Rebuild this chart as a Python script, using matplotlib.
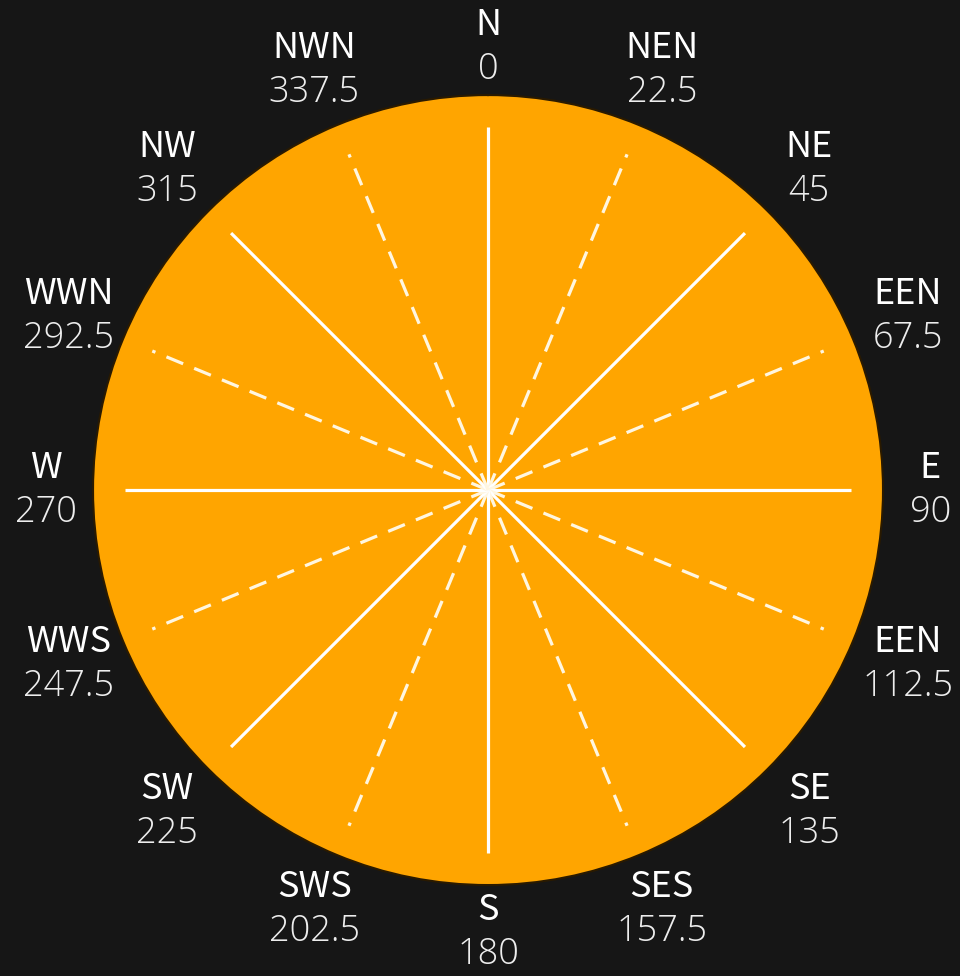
#compass rose: 16 directions drawn on an orange disc, labels around the rim
import numpy as np
import matplotlib.pyplot as plt
from matplotlib import font_manager

plt.rcParams['font.family'] = ['Noto Sans CJK SC', 'Noto Sans', 'DejaVu Sans']
plt.rcParams['lines.scale_dashes'] = False

# the 16 directions (names as printed on the chart) and their bearings
names = ['N', 'NEN', 'NE', 'EEN', 'E', 'EEN', 'SE', 'SES',
         'S', 'SWS', 'SW', 'WWS', 'W', 'WWN', 'NW', 'NWN']
degrees = [0, 22.5, 45, 67.5, 90, 112.5, 135, 157.5,
           180, 202.5, 225, 247.5, 270, 292.5, 315, 337.5]
# main directions get a solid ray, the in-between ones a dashed ray
solid = [True, False] * 8

# find a light weight for the numbers, if one is installed
light_family = None
for fam in ['Noto Sans CJK SC', 'Noto Sans', 'Open Sans', 'Lato', 'Roboto', 'Inter']:
    for f in font_manager.fontManager.ttflist:
        if f.name == fam and isinstance(f.weight, int) and f.weight <= 300 and f.style == 'normal':
            light_family = fam
            break
    if light_family:
        break
if light_family is None:
    light_family = 'Noto Sans'

bg = '#161616'
orange = '#FFA500'

fig = plt.figure(figsize=(9.6, 9.76), dpi=100, facecolor=bg)
ax = fig.add_axes([0.0969, 0.0932, 0.8229, 0.8094], projection='polar')
ax.set_facecolor(orange)
ax.set_theta_zero_location('N')
ax.set_theta_direction(-1)
ax.set_ylim(0, 1)
ax.grid(False)
ax.set_xticks([])
ax.set_yticks([])
ax.spines['polar'].set_color('#2a1a00')
ax.spines['polar'].set_linewidth(1.5)

for name, deg, s in zip(names, degrees, solid):
    th = np.deg2rad(deg)
    if s:
        ax.plot([th, th], [0, 0.92], color='white', lw=2.3, solid_capstyle='butt')
    else:
        ax.plot([th, th], [0, 0.92], color='#FFF6E0', lw=2.3,
                dashes=(13, 8.6), dash_capstyle='butt')
    # cardinal labels sit a little closer to the disc than the others
    r_lab = 1.12 if deg % 90 == 0 else 1.15
    # label block: name on top, bearing below
    ax.annotate(name, xy=(th, r_lab), xytext=(0, 16), textcoords='offset points',
                ha='center', va='center', color='white', fontsize=26,
                annotation_clip=False)
    ax.annotate('%g' % deg, xy=(th, r_lab), xytext=(0, -16), textcoords='offset points',
                ha='center', va='center', color='#EDEDED', fontsize=26,
                family=[light_family, 'DejaVu Sans'], fontweight=300,
                annotation_clip=False)

plt.savefig('out.png', dpi=100, facecolor=bg)
